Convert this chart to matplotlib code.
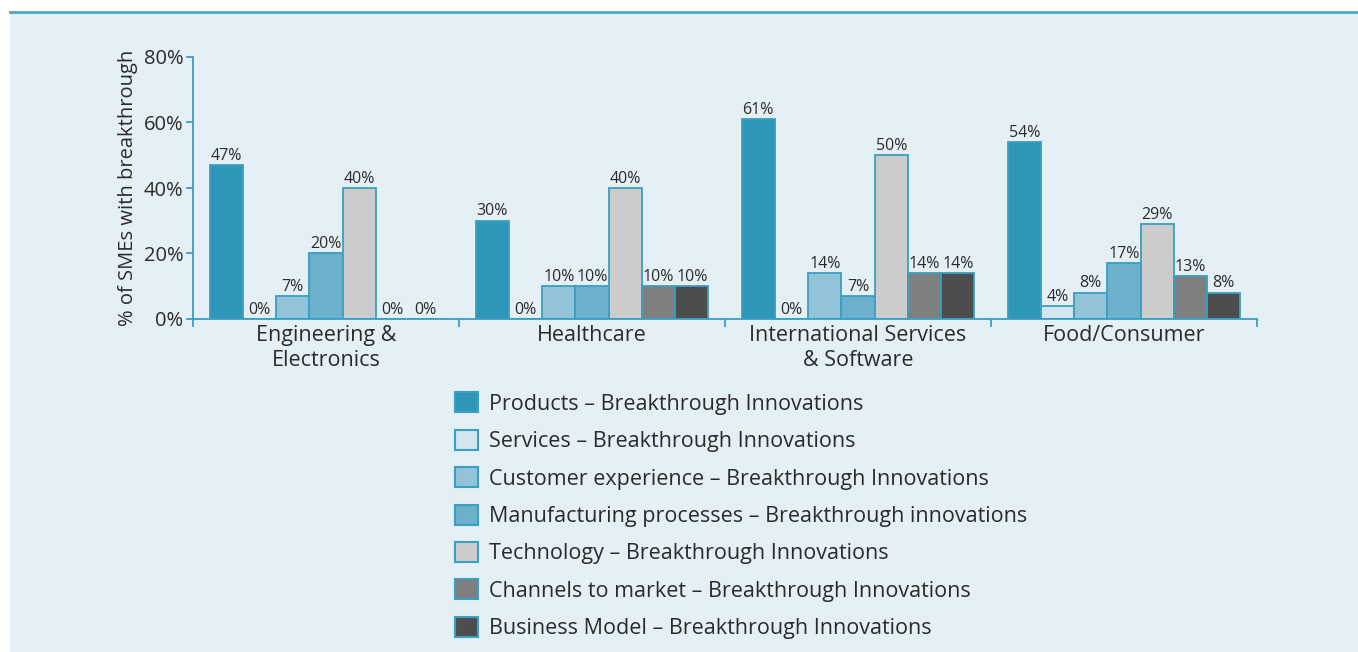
import matplotlib
matplotlib.use("Agg")
import matplotlib.pyplot as plt
import numpy as np
from matplotlib.patches import Patch, Rectangle

plt.rcParams["font.family"] = ["Open Sans", "DejaVu Sans"]

sectors = ["Engineering &\nElectronics", "Healthcare", "International Services\n& Software", "Food/Consumer"]
series = [
    "Products \u2013 Breakthrough Innovations",
    "Services \u2013 Breakthrough Innovations",
    "Customer experience \u2013 Breakthrough Innovations",
    "Manufacturing processes \u2013 Breakthrough innovations",
    "Technology \u2013 Breakthrough Innovations",
    "Channels to market \u2013 Breakthrough Innovations",
    "Business Model \u2013 Breakthrough Innovations",
]
# one list per series, one value per sector (percent)
products = [47, 30, 61, 54]
services = [0, 0, 0, 4]
customer = [7, 10, 14, 8]
manufacturing = [20, 10, 7, 17]
technology = [40, 40, 50, 29]
channels = [0, 10, 14, 13]
business = [0, 10, 14, 8]
values = [products, services, customer, manufacturing, technology, channels, business]

colors = ["#2e96b8", "#d3e6f0", "#93c3d9", "#6cb0cc", "#cccccc", "#7f7f7f", "#4d4d4d"]
edge = "#3a9fc0"
bg = "#e4f0f5"
text_col = "#2b2b2b"

fig = plt.figure(figsize=(13.58, 6.52), dpi=100)
fig.patch.set_facecolor("white")
fig.patches.append(Rectangle((10 / 1358, 0), 1, 1 - 13 / 652, transform=fig.transFigure,
                             facecolor=bg, edgecolor="none", zorder=-10))
fig.lines.append(plt.Line2D([10 / 1358, 1], [1 - 12 / 652] * 2, transform=fig.transFigure,
                            color="#4aa8c6", linewidth=2, zorder=-9))

ax = fig.add_axes([193 / 1358, 1 - 319 / 652, (1257 - 193) / 1358, (319 - 57) / 652])
ax.set_facecolor("none")

x = np.arange(len(sectors))
width = 0.125
n = len(series)
for i, (vals, col) in enumerate(zip(values, colors)):
    pos = x + (i - (n - 1) / 2) * width
    ax.bar(pos, vals, width=width, color=col, edgecolor=edge, linewidth=1.3, zorder=2)
    for p, v in zip(pos, vals):
        ax.text(p, v + 0.4, f"{v}%", ha="center", va="bottom", fontsize=11.5, color=text_col)

ax.set_xlim(-0.5, len(sectors) - 0.5)
ax.set_ylim(0, 80)
ax.set_yticks([0, 20, 40, 60, 80])
ax.set_yticklabels([f"{t}%" for t in [0, 20, 40, 60, 80]])
ax.set_xticks(np.arange(len(sectors) + 1) - 0.5)
ax.set_xticklabels([])
ax.set_xticks(x, minor=True)
ax.set_xticklabels(sectors, minor=True, linespacing=1.3)
ax.tick_params(axis="x", which="minor", length=0, pad=4, labelsize=15.5, labelcolor=text_col)
ax.tick_params(axis="x", which="major", length=6, color=edge, width=1.3)
ax.tick_params(axis="y", length=5, color=edge, width=1.3, labelsize=14.5, labelcolor=text_col, pad=2)
for s in ["top", "right"]:
    ax.spines[s].set_visible(False)
for s in ["left", "bottom"]:
    ax.spines[s].set_color(edge)
    ax.spines[s].set_linewidth(1.3)
ax.set_ylabel("% of SMEs with breakthrough", fontsize=14.5, color=text_col, labelpad=4)

handles = [Patch(facecolor=c, edgecolor=edge, linewidth=1.5) for c in colors]
fig.legend(handles, series, loc="upper left", bbox_to_anchor=(436 / 1358, 1 - 373 / 652),
           frameon=False, fontsize=15.5, handlelength=1.05, handleheight=1.05,
           labelspacing=0.70, handletextpad=0.5, labelcolor=text_col)

fig.savefig("out.png", dpi=100, facecolor=fig.get_facecolor())
